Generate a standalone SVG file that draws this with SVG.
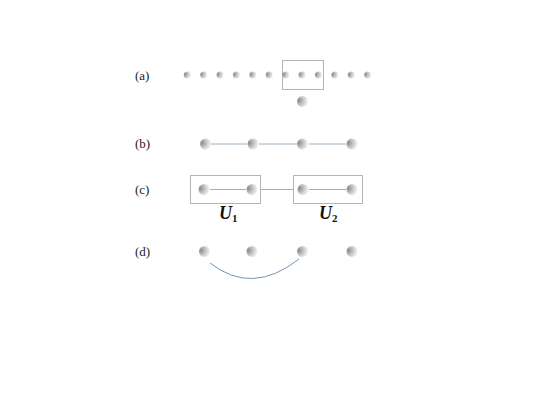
<svg xmlns="http://www.w3.org/2000/svg" width="556" height="417" viewBox="0 0 556 417">
<defs>
<radialGradient id="g" cx="0.2" cy="0.4" r="0.9" fx="0.15" fy="0.4">
<stop offset="0" stop-color="#8a8a8a"/>
<stop offset="0.45" stop-color="#c4c4c4"/>
<stop offset="1" stop-color="#ffffff"/>
</radialGradient>
<style>
.lbl{font-family:"Liberation Serif","Times New Roman",serif;font-size:13px;fill:#222}
.u{font-family:"Liberation Serif","Times New Roman",serif;font-size:18px;font-weight:bold;font-style:italic;fill:#111}
.sub{font-family:"Liberation Serif","Times New Roman",serif;font-size:11px;font-weight:bold;fill:#111}
.box{fill:none;stroke:#b4b4b4;stroke-width:1}
.ln{fill:none;stroke:#9db2c2;stroke-width:1}
.arc{fill:none;stroke:#7396ba;stroke-width:1}
.s{fill:url(#g)}
</style>
</defs>
<rect width="556" height="417" fill="#fff"/>
<g id="labels">
<text class="lbl" x="135" y="80">(a)</text>
<text class="lbl" x="135" y="148">(b)</text>
<text class="lbl" x="135" y="194">(c)</text>
<text class="lbl" x="135" y="256">(d)</text>
</g>
<g id="connectors">
<line class="ln" x1="211" y1="144" x2="247" y2="144"/>
<line class="ln" x1="259" y1="144" x2="297" y2="144"/>
<line class="ln" x1="309" y1="144" x2="346" y2="144"/>
<line class="ln" x1="210" y1="189.5" x2="246" y2="189.5"/>
<line class="ln" x1="260" y1="189.5" x2="293" y2="189.5"/>
<line class="ln" x1="309" y1="189.5" x2="346" y2="189.5"/>
<path class="arc" d="M210 263 Q252 296 299 259"/>
</g>
<g id="rowA">
<rect class="box" x="282.5" y="60.5" width="41" height="29"/>
<circle class="s" cx="187.3" cy="75" r="3.6"/>
<circle class="s" cx="203.7" cy="75" r="3.6"/>
<circle class="s" cx="220.1" cy="75" r="3.6"/>
<circle class="s" cx="236.5" cy="75" r="3.6"/>
<circle class="s" cx="252.9" cy="75" r="3.6"/>
<circle class="s" cx="269.3" cy="75" r="3.6"/>
<circle class="s" cx="285.7" cy="75" r="3.6"/>
<circle class="s" cx="302.1" cy="75" r="3.6"/>
<circle class="s" cx="318.5" cy="75" r="3.6"/>
<circle class="s" cx="334.9" cy="75" r="3.6"/>
<circle class="s" cx="351.3" cy="75" r="3.6"/>
<circle class="s" cx="367.7" cy="75" r="3.6"/>
<circle class="s" cx="302.5" cy="101.5" r="5.5"/>
</g>
<g id="rowB">
<circle class="s" cx="205.5" cy="144" r="5.5"/>
<circle class="s" cx="253" cy="144" r="5.5"/>
<circle class="s" cx="302.5" cy="144" r="5.5"/>
<circle class="s" cx="352" cy="144" r="5.5"/>
</g>
<g id="U1">
<rect class="box" x="190.5" y="175.5" width="70" height="28"/>
<circle class="s" cx="204" cy="189.5" r="5.5"/>
<circle class="s" cx="252" cy="189.5" r="5.5"/>
<text class="u" x="219" y="219">U</text><text class="sub" x="232" y="222">1</text>
</g>
<g id="U2">
<rect class="box" x="293.5" y="175.5" width="69" height="28"/>
<circle class="s" cx="303" cy="189.5" r="5.5"/>
<circle class="s" cx="352" cy="189.5" r="5.5"/>
<text class="u" x="319" y="219">U</text><text class="sub" x="332" y="222">2</text>
</g>
<g id="rowD">
<circle class="s" cx="204.5" cy="251.5" r="5.5"/>
<circle class="s" cx="252" cy="251.5" r="5.5"/>
<circle class="s" cx="302.5" cy="251.5" r="5.5"/>
<circle class="s" cx="352" cy="251.5" r="5.5"/>
</g>
</svg>
